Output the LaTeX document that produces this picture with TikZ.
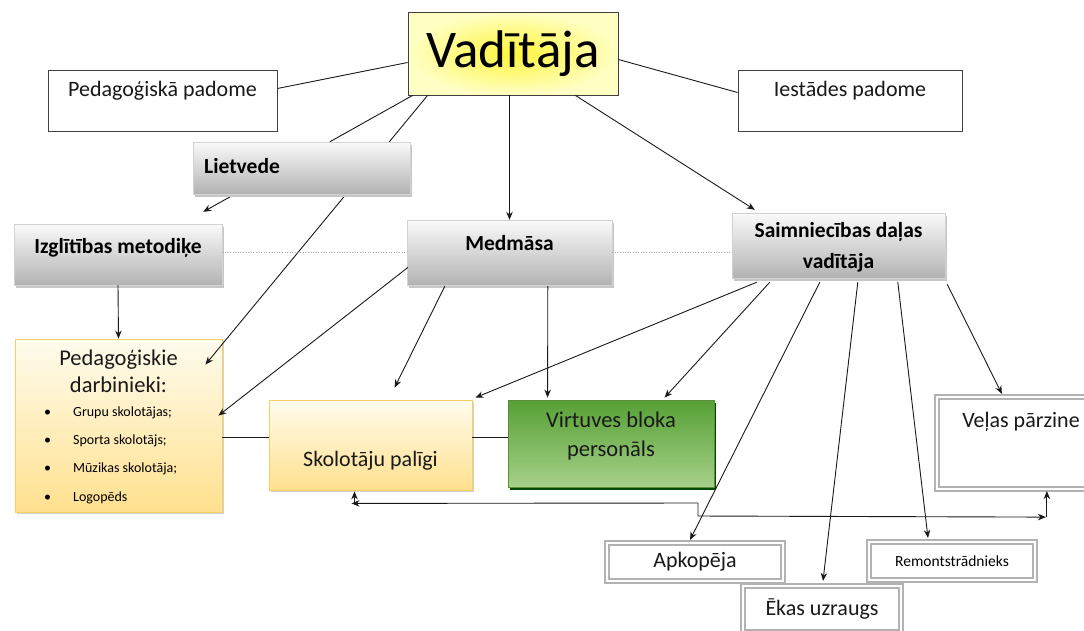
\documentclass[tikz,border=0pt]{standalone}
\usepackage{fontspec}
\setmainfont{Carlito}
\usetikzlibrary{shadows,arrows.meta,calc}
\pgfdeclarelayer{fg}
\pgfsetlayers{main,fg}
\definecolor{ytop}{HTML}{FFFCEE}
\definecolor{ybot}{HTML}{FFE08E}
\definecolor{yborder}{HTML}{F4CF62}
\definecolor{gtop}{HTML}{56A034}
\definecolor{gbot}{HTML}{A6D08A}
\definecolor{gborder}{HTML}{5C8F3A}
\definecolor{vin}{HTML}{FFF43A}
\definecolor{vout}{HTML}{FFFFC4}
\begin{document}
\begin{tikzpicture}[x=1pt,y=-1pt,
  box/.style={draw=black!75, fill=white, line width=0.8pt, inner sep=0pt},
  graybox/.style={draw=gray!35, top color=gray!4, bottom color=gray!60, inner sep=0pt,
    drop shadow={shadow xshift=2pt, shadow yshift=-3pt, fill=gray!45, opacity=1}},
  yelbox/.style={draw=yborder, line width=0.8pt, top color=ytop, bottom color=ybot, inner sep=0pt,
    drop shadow={shadow xshift=2pt, shadow yshift=-2pt, fill=gray!35, opacity=1}},
  greenbox/.style={draw=gborder, line width=0.8pt, top color=gtop, bottom color=gbot, inner sep=0pt,
    drop shadow={shadow xshift=2pt, shadow yshift=-3pt, fill=black!70!green, opacity=1}},
  vadbox/.style={draw=black!75, line width=0.9pt, inner color=vin, outer color=vout, inner sep=0pt},
  dblbox/.style={draw=gray!60, double=white, double distance=2pt, line width=2.2pt, fill=white, inner sep=0pt},
  txt/.style={font=\fontsize{22}{26}\selectfont, inner sep=0pt, text=black!90},
  btxt/.style={font=\bfseries\fontsize{21.5}{26}\selectfont, inner sep=0pt},
  small/.style={font=\fontsize{14}{16}\selectfont, inner sep=0pt, anchor=west},
  con/.style={line width=0.9pt, draw=black!90},
  arr/.style={con, -{Stealth[length=8pt,width=6.5pt]}},
  dotline/.style={draw=gray!70, line width=0.6pt, dotted}
]
\useasboundingbox (0,0) rectangle (1084,630);

% top level
\node[vadbox, minimum width=210pt, minimum height=83pt, font=\fontsize{53}{58}\selectfont] (vad) at (513,53.5) {Vadītāja};
\node[box, minimum width=229pt, minimum height=61pt] (pp) at (162.5,100.5) {};
\node[txt] (ppt) at (162.5,91) {Pedagoģiskā padome};
\node[box, minimum width=224pt, minimum height=61pt] (ip) at (850,100.5) {};
\node[txt] (ipt) at (850,91) {Iestādes padome};

% second level
\begin{pgfonlayer}{fg}
\node[graybox, minimum width=217pt, minimum height=52pt] (liet) at (301.5,168) {};
\node[btxt, anchor=west] (liett) at (204,166) {Lietvede};
\end{pgfonlayer}
\node[graybox, minimum width=208pt, minimum height=61pt] (izgl) at (118,254.5) {};
\node[btxt] (izglt) at (118,248) {Izglītības metodiķe};
\node[graybox, minimum width=205pt, minimum height=65pt] (med) at (509.5,252.5) {};
\node[btxt] (medt) at (509.5,243) {Medmāsa};
\node[graybox, minimum width=213pt, minimum height=65pt] (saim) at (838.5,245.5) {};
\node[btxt, align=center, font=\bfseries\fontsize{21.5}{31}\selectfont] (saimt) at (838.5,247) {Saimniecības daļas\\vadītāja};

% third level
\node[yelbox, minimum width=207pt, minimum height=173pt] (ped) at (118.5,425.5) {};
\node[txt, align=center, font=\fontsize{22.5}{27}\selectfont] (pedt) at (118.5,371.5) {Pedagoģiskie\\darbinieki:};
\node[small] (b1) at (44,413) {•\hspace{22pt}Grupu skolotājas;};
\node[small] (b2) at (44,441) {•\hspace{22pt}Sporta skolotājs;};
\node[small] (b3) at (44,469) {•\hspace{22pt}Mūzikas skolotāja;};
\node[small] (b4) at (44,498) {•\hspace{22pt}Logopēds};

\node[yelbox, minimum width=203pt, minimum height=90pt] (skol) at (370.5,445) {};
\node[txt] (skolt) at (370.5,461) {Skolotāju palīgi};
\node[greenbox, minimum width=206pt, minimum height=87pt] (virt) at (611,443.5) {};
\node[txt, align=center, font=\fontsize{22.5}{29}\selectfont] (virtt) at (611,435.5) {Virtuves bloka\\personāls};
\node[dblbox, minimum width=150pt, minimum height=92pt] (vel) at (1012,443) {};
\node[txt] (velt) at (1021,422) {Veļas pārzine};

\node[dblbox, minimum width=176pt, minimum height=38pt, txt] (apk) at (695,562) {Apkopēja};
\node[dblbox, minimum width=166pt, minimum height=38pt, font=\fontsize{15.5}{18}\selectfont] (rem) at (952,561) {Remontstrādnieks};
\node[dblbox, minimum width=158pt, minimum height=46pt, txt] (eka) at (822,609) {Ēkas uzraugs};

% connectors
\draw[con] ($(pp.east)+(0,-12)$) -- ($(vad.west)+(0,9)$);
\draw[con] ($(ip.west)+(0,-8)$) -- ($(vad.east)+(0,6)$);
\draw[con] ($(vad.south west)+(5,0)$) -- ($(liet.north west)+(137,0)$);
\draw[arr] ($(vad.south west)+(20,0)$) -- ($(ped.north east)+(-17,26)$);
\draw[arr] ($(liet.south west)+(42,0)$) -- ($(izgl.north east)+(-19,-12)$);
\draw[arr] (vad.south -| med.north) -- (med.north);
\draw[arr] ($(vad.south east)+(-43,0)$) -- ($(saim.north west)+(23,-3)$);
\draw[arr] (izgl.south) -- (ped.north);
\draw[dotline] (izgl.east |- med.west) -- (med.west);
\draw[dotline] (med.east) -- (med.east -| saim.west);

\draw[arr] ($(med.west)+(1,15)$) -- ($(ped.north east)+(-4,77)$);
\draw[arr] ($(med.south west)+(38,1)$) -- ($(skol.north west)+(126,-12)$);
\draw[arr] ($(med.south west)+(141,1)$) -- ($(virt.north west)+(40,-2)$);

\draw[arr] ($(saim.south west)+(25,4)$) -- ($(skol.north east)+(3,-2)$);
\draw[arr] ($(saim.south west)+(38,4)$) -- ($(virt.north west)+(157,-2)$);
\draw[arr] ($(saim.south west)+(88,4)$) -- ($(apk.north)+(-5,-2)$);
\draw[arr] ($(saim.south west)+(126,4)$) -- ($(eka.north)+(1,-4)$);
\draw[arr] ($(saim.south west)+(166,4)$) -- ($(rem.north)+(-24,-3)$);
\draw[arr] ($(saim.south east)+(2,6)$) -- ($(vel.north west)+(66,-2)$);

\draw[con] ($(skol.west)+(0,-8)$) -- ($(ped.east)+(0,11.5)$);
\draw[con] ($(skol.east)+(0,-8)$) -- ($(virt.east)+(-206,-6.5)$);

\coordinate (j1) at (698,503);
\coordinate (j2) at (698,516);
\draw[arr] (j1) -- ($(skol.south)+(-19,13)$);
\draw[arr] ($(skol.south)+(-16,13)$) -- ($(skol.south)+(-16,1)$);
\draw[arr] (j1) -- (j2) -- ($(vel.south west)+(110,27)$);
\draw[arr] ($(vel.south west)+(111,27)$) -- ($(vel.south west)+(111,1)$);
\end{tikzpicture}
\end{document}
